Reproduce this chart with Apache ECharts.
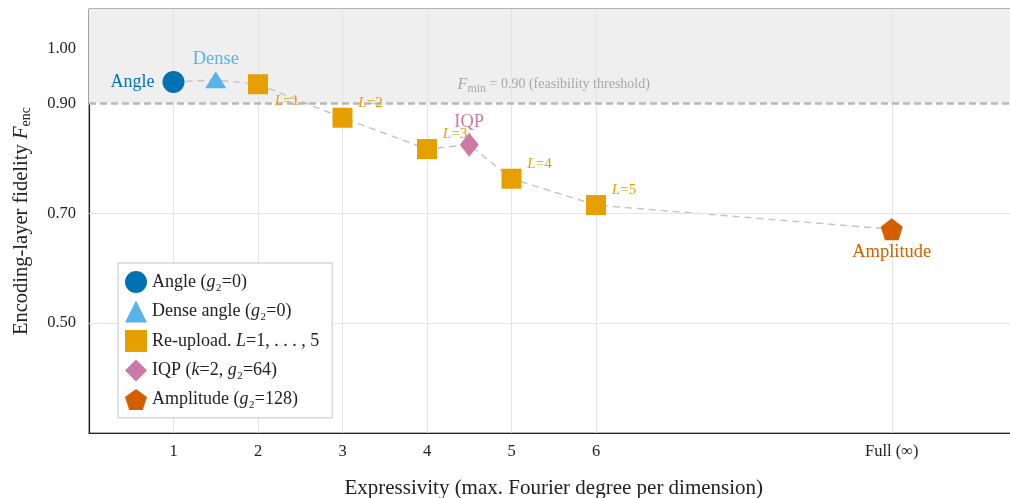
<!DOCTYPE html>
<html>
<head>
<meta charset="utf-8">
<script src="https://cdn.jsdelivr.net/npm/echarts@6/dist/echarts.min.js"></script>
<style>
  html, body { margin: 0; padding: 0; background: #fff; }
  #main { width: 1010px; height: 498px; }
</style>
</head>
<body>
<div id="main"></div>
<script>
// data
var angleX = [1], angleY = [0.939];
var denseX = [1.5], denseY = [0.943];
var reuploadX = [2, 3, 4, 5, 6];
var reuploadY = [0.935, 0.874, 0.817, 0.763, 0.715];
var reuploadLabels = ['L=1', 'L=2', 'L=3', 'L=4', 'L=5'];
var iqpX = [4.5], iqpY = [0.825];
var ampX = [9.5], ampY = [0.671];
var xTickValues = [1, 2, 3, 4, 5, 6, 9.5];
var xTickLabels = ['1', '2', '3', '4', '5', '6', 'Full (∞)'];
var yTickValues = [0.5, 0.7, 0.9, 1.0];
var yGridValues = [0.5, 0.7];
var threshold = 0.90;

var FONT = '"Liberation Serif", "DejaVu Serif", serif';
var C_ANGLE = '#0072B2', C_DENSE = '#56B4E9', C_RE = '#E69F00', C_IQP = '#CC79A7', C_AMP = '#D55E00';
var PENTAGON = 'path://M0,-10 L9.51,-3.09 L5.88,8.09 L-5.88,8.09 L-9.51,-3.09 Z';

function pts(xs, ys) {
  return xs.map(function (x, i) { return [x, ys[i]]; });
}

// every point, sorted by x, for the dashed trend line
var allPts = pts(angleX, angleY).concat(pts(denseX, denseY), pts(reuploadX, reuploadY),
  pts(iqpX, iqpY), pts(ampX, ampY)).sort(function (a, b) { return a[0] - b[0]; });

var myChart = echarts.init(document.getElementById('main'));

var legendNames = {
  'Angle': 'Angle ({i|g}₂=0)',
  'Dense angle': 'Dense angle ({i|g}₂=0)',
  'Re-upload': 'Re-upload. {i|L}=1, . . . , 5',
  'IQP': 'IQP ({i|k}=2, {i|g}₂=64)',
  'Amplitude': 'Amplitude ({i|g}₂=128)'
};

var reData = reuploadX.map(function (x, i) {
  return {
    value: [x, reuploadY[i]],
    label: {
      show: true,
      formatter: '{i|L}=' + reuploadLabels[i].split('=')[1],
      position: 'inside',
      offset: i === 0 ? [29, 17] : [28, -15]
    }
  };
});

var option = {
  animation: false,
  textStyle: { fontFamily: FONT },
  grid: {
    left: 89, top: 9, width: 929.5, bottom: 65,
    outerBoundsMode: 'none', containLabel: false,
    show: true, borderColor: '#666', borderWidth: 1
  },
  legend: {
    orient: 'vertical',
    left: 118, top: 263, z: 10,
    padding: [8, 13, 8, 7],
    itemGap: 7.5,
    itemWidth: 22, itemHeight: 22,
    backgroundColor: '#fff',
    borderColor: '#c4c4c4', borderWidth: 1,
    data: ['Angle', 'Dense angle', 'Re-upload', 'IQP', 'Amplitude'],
    formatter: function (n) { return legendNames[n]; },
    textStyle: {
      fontFamily: FONT, fontSize: 18, color: '#222',
      rich: { i: { fontFamily: FONT, fontSize: 18, fontStyle: 'italic', color: '#222' } }
    }
  },
  xAxis: {
    type: 'value', min: 0, max: 11,
    name: 'Expressivity (max. Fourier degree per dimension)',
    nameLocation: 'middle', nameGap: 45,
    nameTextStyle: { fontFamily: FONT, fontSize: 21, color: '#222' },
    axisLine: { show: true, lineStyle: { color: '#222', width: 1.2 } },
    axisTick: { show: false },
    splitLine: { show: false },
    axisLabel: {
      customValues: xTickValues,
      margin: 10,
      fontFamily: FONT, fontSize: 16.5, color: '#222',
      formatter: function (v) {
        var k = xTickValues.indexOf(v);
        return k >= 0 ? xTickLabels[k] : '';
      }
    }
  },
  yAxis: {
    type: 'value', min: 0.3, max: 1.072,
    name: '{n|Encoding-layer fidelity }{i|F}{s|enc}',
    nameLocation: 'middle', nameGap: 56,
    nameTextStyle: {
      rich: {
        n: { fontFamily: FONT, fontSize: 20.5, color: '#222' },
        i: { fontFamily: FONT, fontSize: 21, fontStyle: 'italic', color: '#222' },
        s: { fontFamily: FONT, fontSize: 14, color: '#222', padding: [9, 0, 0, 0] }
      }
    },
    axisLine: { show: true, lineStyle: { color: '#222', width: 1.2 } },
    axisTick: { show: false },
    splitLine: { show: false },
    axisLabel: {
      customValues: yTickValues,
      margin: 13,
      fontFamily: FONT, fontSize: 16.5, color: '#222',
      formatter: function (v) { return v.toFixed(2); }
    }
  },
  series: [
    {
      // grid lines
      type: 'line', data: [], z: 1, silent: true,
      markLine: {
        silent: true, symbol: 'none', animation: false,
        label: { show: false },
        lineStyle: { color: '#e4e4e4', type: 'solid', width: 1 },
        data: xTickValues.map(function (v) { return { xAxis: v }; })
          .concat(yGridValues.map(function (v) { return { yAxis: v }; }))
      }
    },
    {
      // infeasible band and threshold
      type: 'line', data: [], z: 2, silent: true,
      markArea: {
        silent: true,
        itemStyle: { color: '#efefef' },
        data: [[{ yAxis: threshold }, { yAxis: 1.072 }]]
      },
      markLine: {
        silent: true, symbol: 'none', animation: false,
        lineStyle: { color: '#b8b8b8', type: [7, 4], width: 2.5 },
        label: {
          show: true, position: 'insideMiddleTop', distance: 9,
          formatter: '{i|F}{s|min}{n| = 0.90 (feasibility threshold)}',
          rich: {
            i: { fontFamily: FONT, fontSize: 16, fontStyle: 'italic', color: '#a8a8a8' },
            s: { fontFamily: FONT, fontSize: 12, color: '#a8a8a8', padding: [8, 0, 0, 0] },
            n: { fontFamily: FONT, fontSize: 14, color: '#a8a8a8' }
          }
        },
        data: [{ yAxis: threshold }]
      }
    },
    {
      // dashed trend line through all encodings
      type: 'line', z: 3, silent: true,
      data: allPts, symbol: 'none',
      lineStyle: { color: '#c4c4c4', width: 1.4, type: [7, 5] }
    },
    {
      name: 'Angle', type: 'scatter', z: 5,
      data: pts(angleX, angleY), symbol: 'circle', symbolSize: 22,
      itemStyle: { color: C_ANGLE, opacity: 1 },
      label: { show: true, formatter: 'Angle', position: 'left', distance: 8,
        fontFamily: FONT, fontSize: 18, color: C_ANGLE }
    },
    {
      name: 'Dense angle', type: 'scatter', z: 5,
      data: pts(denseX, denseY), symbol: 'triangle', symbolSize: [21, 17],
      itemStyle: { color: C_DENSE, opacity: 1 },
      label: { show: true, formatter: 'Dense', position: 'top', distance: 3,
        fontFamily: FONT, fontSize: 18.5, color: C_DENSE }
    },
    {
      name: 'Re-upload', type: 'scatter', z: 5,
      data: reData, symbol: 'rect', symbolSize: 20,
      itemStyle: { color: C_RE, opacity: 1 },
      label: {
        fontFamily: FONT, fontSize: 15, color: C_RE,
        rich: { i: { fontFamily: FONT, fontSize: 15, fontStyle: 'italic', color: C_RE } }
      }
    },
    {
      name: 'IQP', type: 'scatter', z: 5,
      data: pts(iqpX, iqpY), symbol: 'diamond', symbolSize: [19, 24],
      itemStyle: { color: C_IQP, opacity: 1 },
      label: { show: true, formatter: 'IQP', position: 'top', distance: 1,
        fontFamily: FONT, fontSize: 18.5, color: C_IQP }
    },
    {
      name: 'Amplitude', type: 'scatter', z: 5,
      data: pts(ampX, ampY), symbol: PENTAGON, symbolSize: 22,
      itemStyle: { color: C_AMP, opacity: 1 },
      label: { show: true, formatter: 'Amplitude', position: 'bottom', distance: 2,
        fontFamily: FONT, fontSize: 18.5, color: C_AMP }
    }
  ]
};
myChart.setOption(option);
</script>
</body>
</html>
